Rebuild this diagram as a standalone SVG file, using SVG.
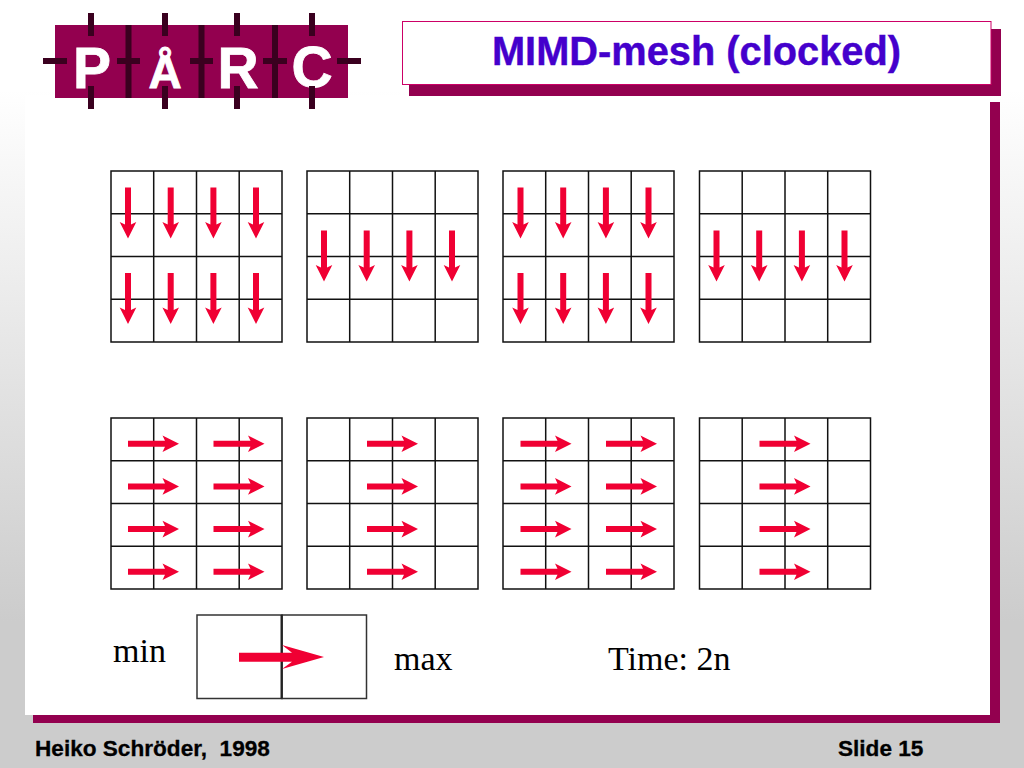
<svg xmlns="http://www.w3.org/2000/svg" xmlns:xlink="http://www.w3.org/1999/xlink" width="1024" height="768" viewBox="0 0 1024 768">
<style>
.sans{font-family:"Liberation Sans",Arial,sans-serif;font-weight:bold}
.serif{font-family:"Liberation Serif","Times New Roman",serif;font-size:34px;fill:#000}
.logo{fill:#fff;stroke:#fff;stroke-width:0.800;font-size:57px;text-anchor:middle}
.foot{fill:#000;stroke:#000;stroke-width:0.300;font-size:22.600px}
.grid{fill:none;stroke:#111;stroke-width:1.500}
.arrow{fill:#f00033}
.dark{fill:#3a001f}
.plum{fill:#93004f}
</style>
<defs>
<linearGradient id="bg" x1="0" y1="0" x2="0" y2="1">
<stop offset="0.117" stop-color="#ffffff"/><stop offset="0.81" stop-color="#cccccc"/>
</linearGradient>
<path id="g" class="grid" d="M111 171H282V342H111ZM153.700 171V342M196.500 171V342M239.200 171V342M111 213.700H282M111 256.500H282M111 299.200H282"/>
<path id="d" class="arrow" d="M125 187.500H131V224.500L136.300 222 128 238.500 119.700 222 125 224.500Z"/>
<path id="r" class="arrow" d="M128 440.700H165L162.500 435.400 179 443.700 162.500 452 165 446.700H128Z"/>
<g id="dtwo">
<use xlink:href="#d"/><use xlink:href="#d" x="42.700"/><use xlink:href="#d" x="85.400"/><use xlink:href="#d" x="128"/>
</g>
<g id="rcol">
<use xlink:href="#r"/><use xlink:href="#r" y="42.700"/><use xlink:href="#r" y="85.400"/><use xlink:href="#r" y="128"/>
</g>
</defs>
<rect width="1024" height="768" fill="url(#bg)"/>
<rect x="25" y="95" width="965" height="620" fill="#fff"/>
<rect class="plum" x="990" y="102" width="10" height="621"/>
<rect class="plum" x="33" y="715" width="967" height="8"/>
<g id="logo">
<rect class="plum" x="55" y="25" width="293" height="73"/>
<text class="sans logo" x="92" y="88">P</text>
<text class="sans logo" x="165" y="88" style="font-size:46px">Å</text>
<text class="sans logo" x="238" y="88">R</text>
<text class="sans logo" x="312" y="87">C</text>
<path class="dark" d="M125.500 25h6v73h-6zM198.500 25h6v73h-6zM272 25h6v73h-6zM88 13h6v23h-6zM162 13h6v23h-6zM234 13h6v23h-6zM309 13h6v23h-6zM88 86h6v23h-6zM162 86h6v23h-6zM234 86h6v23h-6zM309 86h6v23h-6zM43 58h24v6h-24zM117 58h23v6h-23zM190 58h23v6h-23zM263 58h24v6h-24zM337 58h24v6h-24z"/>
</g>
<g id="title">
<rect class="plum" x="409" y="29" width="592" height="67"/>
<rect x="402.500" y="21.500" width="588.500" height="63" fill="#fff" stroke="#cc0066" stroke-width="1"/>
<text class="sans" x="696.500" y="65" font-size="39.800" fill="#4400cc" stroke="#4400cc" stroke-width="0.400" text-anchor="middle">MIMD-mesh (clocked)</text>
</g>
<g id="grids-top">
<use xlink:href="#g"/><use xlink:href="#g" x="196"/><use xlink:href="#g" x="392"/><use xlink:href="#g" x="588.500"/>
</g>
<g id="grids-bottom" transform="translate(0 247)">
<use xlink:href="#g"/><use xlink:href="#g" x="196"/><use xlink:href="#g" x="392"/><use xlink:href="#g" x="588.500"/>
</g>
<g id="connectors">
<use xlink:href="#dtwo"/><use xlink:href="#dtwo" y="85.400"/>
<use xlink:href="#dtwo" x="196" y="43"/>
<use xlink:href="#dtwo" x="392.500"/><use xlink:href="#dtwo" x="392.500" y="85.400"/>
<use xlink:href="#dtwo" x="588.500" y="43"/>
<use xlink:href="#rcol"/><use xlink:href="#rcol" x="85.500"/>
<use xlink:href="#rcol" x="239"/>
<use xlink:href="#rcol" x="392.500"/><use xlink:href="#rcol" x="478"/>
<use xlink:href="#rcol" x="631.500"/>
</g>
<g id="legend">
<rect x="197" y="615" width="85" height="83.500" fill="none" stroke="#333" stroke-width="1.500"/>
<rect x="282" y="615" width="84.500" height="83.500" fill="none" stroke="#333" stroke-width="1.500"/>
<line x1="281.500" y1="615" x2="281.500" y2="698.500" stroke="#222" stroke-width="2"/>
<path class="arrow" d="M239 652.700H292L282 645 324 657 282 669 292 661.700H239Z"/>
<text class="serif" x="113" y="662">min</text>
<text class="serif" x="394" y="670">max</text>
<text class="serif" x="608" y="670">Time: 2n</text>
</g>
<g id="footer">
<text class="sans foot" x="35" y="756" xml:space="preserve">Heiko Schröder,  1998</text>
<text class="sans foot" x="838" y="756">Slide 15</text>
</g>
</svg>
